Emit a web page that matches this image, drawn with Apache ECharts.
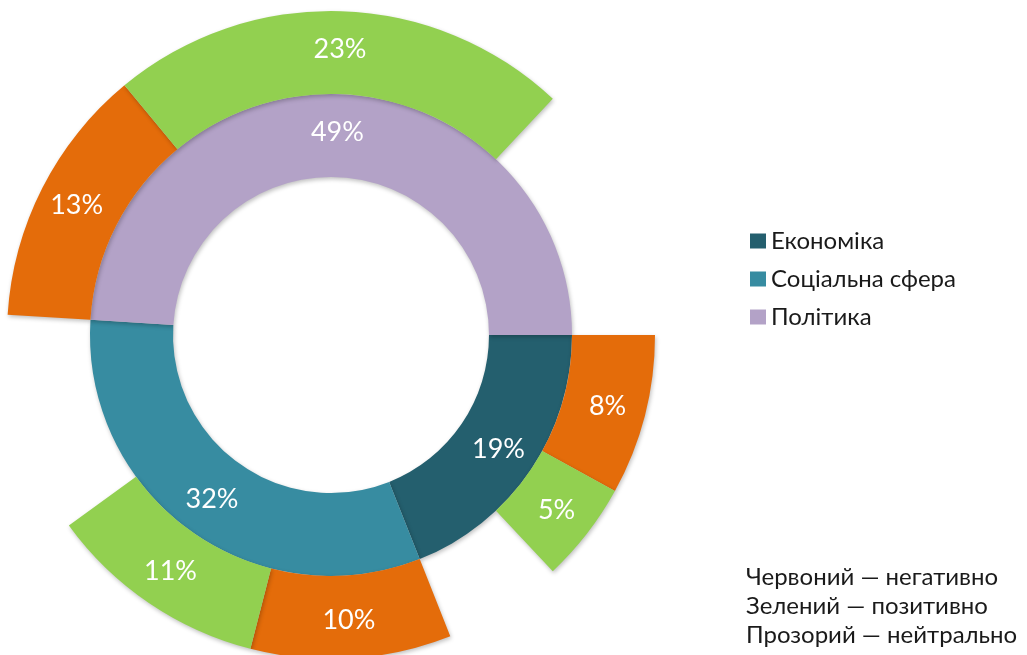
<!DOCTYPE html>
<html>
<head>
<meta charset="utf-8">
<script src="https://cdn.jsdelivr.net/npm/echarts@6/dist/echarts.min.js"></script>
<style>
  html, body { margin: 0; padding: 0; background: #fff; }
  #chart { width: 1027px; height: 655px; }
</style>
</head>
<body>
<div id="chart"></div>
<script>
// Inner ring: share of each topic
const topics = ['Економіка', 'Соціальна сфера', 'Політика'];
const topicShares = [19, 32, 49];
const topicColors = ['#245F6E', '#378CA1', '#B3A2C7'];

// Outer ring: tone within each topic (negative, positive, neutral)
const toneKinds = ['негативно', 'позитивно', 'нейтрально'];
const toneColors = ['#E46C0A', '#92D050', 'transparent'];
const economyTone = [8, 5, 6];
const socialTone = [10, 11, 11];
const politicsTone = [13, 23, 13];

const noteLines = ['Червоний — негативно', 'Зелений — позитивно', 'Прозорий — нейтрально'];

const FONT = 'Lato, "Open Sans", sans-serif';
const center = [331, 335];

const outerData = [];
[economyTone, socialTone, politicsTone].forEach((tones, ti) => {
  tones.forEach((v, k) => {
    const neutral = k === 2;
    outerData.push({
      name: topics[ti] + ' — ' + toneKinds[k],
      value: v,
      itemStyle: neutral
        ? { color: 'transparent', shadowBlur: 0, shadowColor: 'transparent' }
        : { color: toneColors[k] },
      label: { show: !neutral }
    });
  });
});

const shadow = {
  borderWidth: 0,
  shadowBlur: 4,
  shadowOffsetX: 1,
  shadowOffsetY: 2,
  shadowColor: 'rgba(0,0,0,0.25)'
};

const pctLabel = {
  show: true,
  position: 'inside',
  formatter: '{c}%',
  color: '#fff',
  fontFamily: FONT,
  fontSize: 27
};

const chart = echarts.init(document.getElementById('chart'), null, { renderer: 'canvas' });
chart.setOption({
  backgroundColor: '#ffffff',
  animation: false,
  legend: {
    data: topics,
    orient: 'vertical',
    left: 745,
    top: 224,
    itemWidth: 16,
    itemHeight: 15,
    itemGap: 14,
    icon: 'rect',
    textStyle: { fontFamily: FONT, fontSize: 24, lineHeight: 24, color: '#1a1a1a', padding: [0, 0, 0, 0] }
  },
  graphic: noteLines.map((t, i) => ({
    type: 'text',
    x: 746,
    y: 577 + i * 29,
    style: { text: t, font: '24px ' + FONT, fill: '#1a1a1a', verticalAlign: 'middle', align: 'left' }
  })),
  series: [
    {
      name: 'Тематика',
      type: 'pie',
      center: center,
      radius: [158, 241],
      startAngle: 0,
      clockwise: true,
      avoidLabelOverlap: false,
      silent: true,
      itemStyle: shadow,
      label: pctLabel,
      labelLine: { show: false },
      data: topics.map((n, i) => ({ name: n, value: topicShares[i], itemStyle: { color: topicColors[i] } }))
    },
    {
      name: 'Тональність',
      type: 'pie',
      center: center,
      radius: [241, 324],
      startAngle: 0,
      clockwise: true,
      avoidLabelOverlap: false,
      silent: true,
      itemStyle: shadow,
      label: pctLabel,
      labelLine: { show: false },
      data: outerData
    }
  ]
});
</script>
</body>
</html>
